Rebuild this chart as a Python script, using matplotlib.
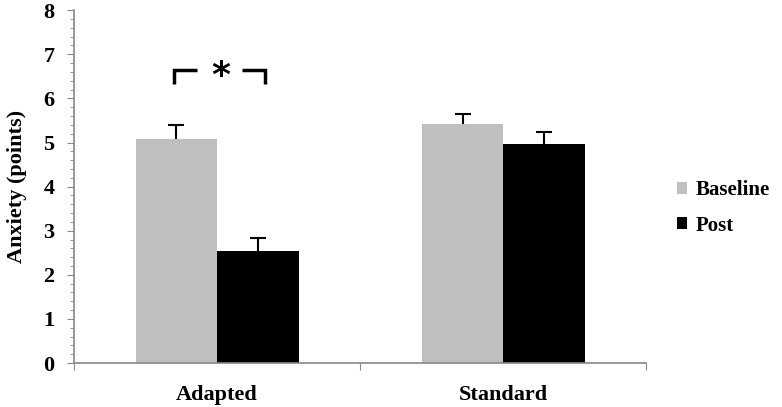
import numpy as np
import matplotlib.pyplot as plt
from matplotlib.ticker import MultipleLocator, FixedLocator, NullFormatter

plt.rcParams['font.family'] = 'Liberation Serif'
plt.rcParams['font.weight'] = 'bold'

groups = ['Adapted', 'Standard']
series = ['Baseline', 'Post']
baseline = [5.07, 5.42]
post = [2.55, 4.96]
baseline_err = [0.33, 0.23]
post_err = [0.29, 0.28]
colors = ['#bfbfbf', '#000000']
axis_gray = '#888888'

fig = plt.figure(figsize=(7.82, 4.07), dpi=100)
ax = fig.add_axes([0.0946, 0.108, 0.732, 0.867])

x = np.arange(len(groups))
w = 0.285
for vals, errs, off, c, name in [(baseline, baseline_err, -w / 2, colors[0], series[0]),
                                  (post, post_err, w / 2, colors[1], series[1])]:
    vals = np.array(vals)
    errs = np.array(errs)
    ax.bar(x + off, vals, width=w, color=c, label=name, zorder=2)
    # upper error bars only
    ax.vlines(x + off, vals, vals + errs, color='black', lw=1.5, zorder=3)
    ax.plot(x + off, vals + errs, ls='none', marker='_', ms=11, mew=1.5,
            color='black', zorder=3)

# significance bracket
ax.plot([-0.149, -0.149, -0.069], [6.32, 6.64, 6.64], color='black', lw=2.5,
        solid_capstyle='butt', solid_joinstyle='miter')
ax.plot([0.087, 0.167, 0.167], [6.64, 6.64, 6.32], color='black', lw=2.5,
        solid_capstyle='butt', solid_joinstyle='miter')
ax.text(0.012, 6.5, '*', ha='center', va='center', fontsize=26,
        family='DejaVu Sans', fontweight='bold')

ax.set_xlim(-0.5, 1.5)
ax.set_ylim(0, 8)
ax.yaxis.set_major_locator(MultipleLocator(1))
ax.yaxis.set_minor_locator(MultipleLocator(0.2))
ax.xaxis.set_major_locator(FixedLocator([-0.5, 0.5, 1.5]))
ax.xaxis.set_major_formatter(NullFormatter())
ax.xaxis.set_minor_locator(FixedLocator(x))
ax.set_xticklabels(groups, minor=True)
ax.tick_params(axis='x', which='minor', length=0, pad=16, labelsize=16)
ax.tick_params(axis='x', which='major', length=5, color=axis_gray)
ax.tick_params(axis='y', which='major', length=5, color=axis_gray, labelsize=16, pad=9)
ax.tick_params(axis='y', which='minor', length=3, color=axis_gray)

for s in ['top', 'right']:
    ax.spines[s].set_visible(False)
for s in ['left', 'bottom']:
    ax.spines[s].set_color(axis_gray)
    ax.spines[s].set_linewidth(1.2)

ax.set_ylabel('Anxiety (points)', fontsize=16, fontweight='bold', labelpad=12)

ax.legend(loc='center left', bbox_to_anchor=(1.02, 0.44), frameon=False,
          fontsize=15, handlelength=0.5, handleheight=0.5, handletextpad=0.4,
          labelspacing=0.75)

fig.savefig('out.png', dpi=100)
